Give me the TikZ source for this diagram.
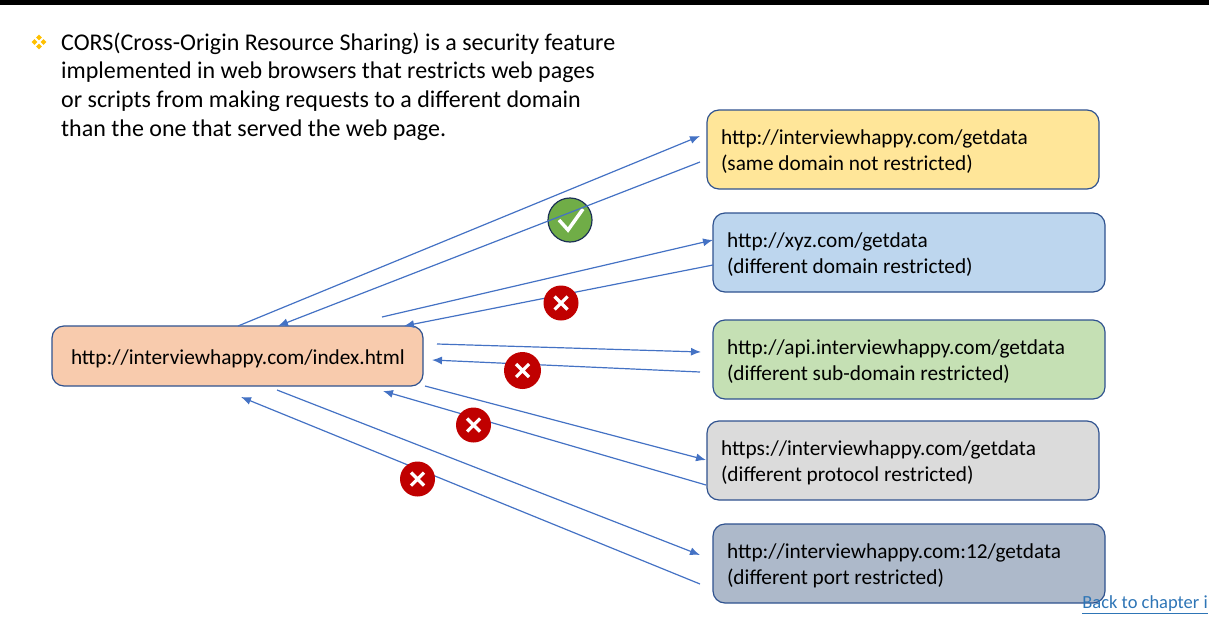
\documentclass[tikz,border=0pt]{standalone}
\usepackage{fontspec}
\setmainfont{Carlito}
\usetikzlibrary{arrows.meta,shapes.geometric}
\definecolor{edgeblue}{HTML}{2F528F}
\definecolor{linkblue}{HTML}{4472C4}
\definecolor{hrefblue}{HTML}{2E75B6}
\definecolor{badred}{HTML}{C00000}
\definecolor{okgreen}{HTML}{70AD47}
\definecolor{bulletgold}{HTML}{FFC000}
\tikzset{
	urlbox/.style={draw=edgeblue,line width=1.2pt,rounded corners=12pt,minimum width=392pt,minimum height=79pt,inner xsep=14pt,text width=364pt,text height=19.5pt,align=flush left,font=\fontsize{21.3}{25.7}\selectfont},
	req/.style={draw=linkblue,line width=1.2pt,-{Latex[length=10pt,width=8pt]}},
	nobadge/.style={circle,fill=badred,minimum size=35pt,inner sep=0pt,
		path picture={\draw[white,line width=3.2pt] (path picture bounding box.center)+(-6.5pt,-6.5pt) -- +(6.5pt,6.5pt) (path picture bounding box.center)+(-6.5pt,6.5pt) -- +(6.5pt,-6.5pt);}},
	okbadge/.style={circle,fill=okgreen,draw=edgeblue!60!black,line width=1.2pt,minimum size=44pt,inner sep=0pt},
	spark/.style={diamond,fill=bulletgold,minimum size=6pt,inner sep=0pt}
}
\begin{document}
\begin{tikzpicture}
	 [x=1pt,y=-1pt]
	\useasboundingbox (0,0) rectangle (1209,621);
	\fill[black] (0,0) rectangle (1209,5);

	\foreach \dx/\dy in {-4.5/0,4.5/0,0/-4.5,0/4.5}
	\node[spark] at (39+\dx,42+\dy) {};
	\node (intro)[anchor=north west,inner sep=0pt,align=flush left,font=\fontsize{24}{28.7}\selectfont] at (61,32.5) {CORS(Cross-Origin Resource Sharing) is a security feature\\implemented in web browsers that restricts web pages\\or scripts from making requests to a different domain\\than the one that served the web page.};

	\node (page)[urlbox,fill={rgb,255:red,248;green,203;blue,173},minimum width=371pt,inner xsep=19pt,text width=333pt,minimum height=60pt] at (237.5,356) {http://interviewhappy.com/index.html};

	\node (same)[urlbox,fill={rgb,255:red,255;green,230;blue,153}] at (903,149.5) {http://interviewhappy.com/getdata\\(same domain not restricted)};
	\node (xyz)[urlbox,fill={rgb,255:red,189;green,214;blue,238}] at (909,252.5) {http://xyz.com/getdata\\(different domain restricted)};
	\node (api)[urlbox,fill={rgb,255:red,197;green,224;blue,180}] at (909,359.5) {http://api.interviewhappy.com/getdata\\(different sub-domain restricted)};
	\node (proto)[urlbox,fill={rgb,255:red,219;green,219;blue,219}] at (903,460.5) {https://interviewhappy.com/getdata\\(different protocol restricted)};
	\node (port)[urlbox,fill={rgb,255:red,173;green,185;blue,202}] at (909,563.5) {http://interviewhappy.com:12/getdata\\(different port restricted)};

	\node (ok)[okbadge] at (570,220) {};
	\draw[white,line width=3.5pt] (559,220) -- (568,230) -- (583,209);

	\coordinate (a) at (238,326);  \coordinate (a1) at (700,136);
	\coordinate (b) at (700,162);  \coordinate (b1) at (278,326);
	\coordinate (c) at (382,317);  \coordinate (c1) at (713,240);
	\coordinate (d) at (713,265);  \coordinate (d1) at (404,326);
	\coordinate (e) at (437,344);  \coordinate (e1) at (701,352);
	\coordinate (f) at (700,372);  \coordinate (f1) at (432,360);
	\coordinate (g) at (425,386);  \coordinate (g1) at (706,460);
	\coordinate (h) at (706,485);  \coordinate (h1) at (383,391);
	\coordinate (p) at (277,390);  \coordinate (p1) at (700,555);
	\coordinate (q) at (700,584);  \coordinate (q1) at (241,397);

	\foreach \from/\to in {a/a1,b/b1,c/c1,d/d1,e/e1,f/f1,g/g1,h/h1,p/p1,q/q1}
    \draw[req] (\from) -- (\to);

	\node (nox)[nobadge] at (561,303) {};
	\node (noa)[nobadge,minimum size=37pt] at (522.5,370.5) {};
	\node (nop)[nobadge] at (473.5,425) {};
	\node (nor)[nobadge] at (417.5,479) {};

	\node (back)[anchor=south east,inner sep=0pt,text=hrefblue,font=\fontsize{18.5}{23}\selectfont] at (1208,614) {\underline{Back to chapter i}};
\end{tikzpicture}
\end{document}
